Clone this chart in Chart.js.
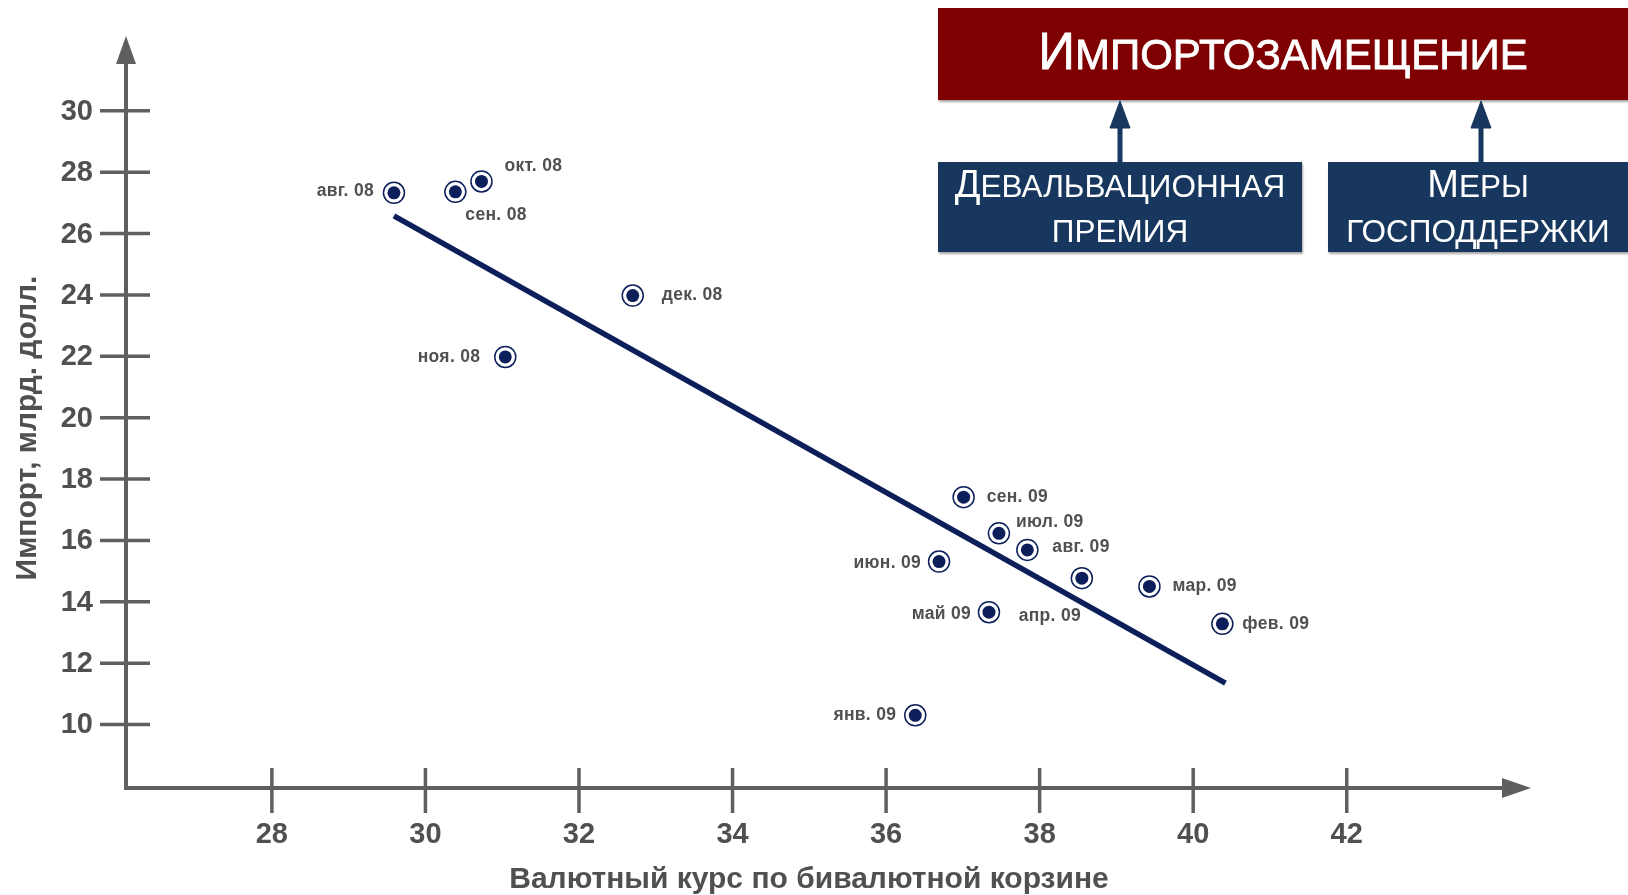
<!DOCTYPE html>
<html lang="ru">
<head>
<meta charset="utf-8">
<script src="https://cdn.jsdelivr.net/npm/chart.js@4/dist/chart.umd.min.js"></script>
<style>
  body { margin: 0; background: #fff; }
  #wrap { position: relative; width: 1628px; height: 895px; overflow: hidden; }
  .box { position: absolute; color: #fff; font-family: 'Liberation Sans', Arial, sans-serif; text-align: center; }
  .red { left: 938px; top: 8px; width: 690px; height: 92px; background: #7e0000; line-height: 88px; font-size: 42px; -webkit-text-stroke: 0.8px #fff; box-shadow: 1px 2px 2px rgba(0,0,0,0.35); }
  .red .big { font-size: 51px; }
  .blue { top: 162px; height: 90px; background: #17375e; font-size: 31.5px; line-height: 45px; box-shadow: 1px 2px 2px rgba(0,0,0,0.35); }
  .blue .big { font-size: 38px; }
  #b1 { left: 938px; width: 364px; }
  #b2 { left: 1328px; width: 300px; }
  #arrows { position: absolute; left: 0; top: 0; }
</style>
</head>
<body>
<div id="wrap">
  <canvas id="jsChart" width="1628" height="895"></canvas>
  <div class="box red"><span class="big">И</span>МПОРТОЗАМЕЩЕНИЕ</div>
  <div class="box blue" id="b1"><span class="big">Д</span>ЕВАЛЬВАЦИОННАЯ<br>ПРЕМИЯ</div>
  <div class="box blue" id="b2"><span class="big">М</span>ЕРЫ<br>ГОСПОДДЕРЖКИ</div>
  <svg id="arrows" width="1628" height="260">
    <g fill="#17375e" stroke="#17375e">
      <line x1="1120" y1="162" x2="1120" y2="126" stroke-width="5"/>
      <polygon points="1120,101 1110,128 1130,128" stroke-width="1"/>
      <line x1="1481" y1="162" x2="1481" y2="126" stroke-width="5"/>
      <polygon points="1481,101 1471,128 1491,128" stroke-width="1"/>
    </g>
  </svg>
</div>
<script>
// месяцы
const months = ['авг. 08', 'сен. 08', 'окт. 08', 'ноя. 08', 'дек. 08', 'янв. 09', 'фев. 09',
                'мар. 09', 'апр. 09', 'май 09', 'июн. 09', 'июл. 09', 'авг. 09', 'сен. 09']
// валютный курс по бивалютной корзине
const rate = [29.59, 30.39, 30.73, 31.04, 32.70, 36.38, 40.38, 39.43, 38.55, 37.34, 36.69, 37.47, 37.84, 37.01]
// импорт, млрд. долл.
const imports = [27.33, 27.36, 27.70, 21.98, 23.98, 10.30, 13.28, 14.50, 14.77, 13.66, 15.31, 16.23, 15.69, 17.41]
// линия тренда
const trendX = [29.59, 40.42]
const trendY = [26.58, 11.35]
// деления осей
const xTicks = [28, 30, 32, 34, 36, 38, 40, 42]
const yTicks = [10, 12, 14, 16, 18, 20, 22, 24, 26, 28, 30]

// смещения подписей точек [dx, dy, align]
const labelOffsets = [
    [-20, -2, 'right'], [10, 23, 'left'], [23, -15, 'left'], [-25, 0, 'right'], [29, 0, 'left'],
    [-19, 0, 'right'], [20, 0, 'left'], [23, 0, 'left'], [-32, 38, 'center'], [-18, 2, 'right'],
    [-18, 2, 'right'], [17, -11, 'left'], [25, -3, 'left'], [23, 0, 'left']
]

const navy = '#0c1f5a'
const axisColor = '#5f5f5f'
const textColor = '#505050'
const font = "'Liberation Sans', Arial, sans-serif"

let points = rate.map((x, i) => ({ x: x, y: imports[i] }))
let trend = trendX.map((x, i) => ({ x: x, y: trendY[i] }))

/**
 * @description оси со стрелками, деления и подписи
*/
const axesPlugin = {
    id: 'axesPlugin',
    beforeDatasetsDraw(chart) {
        let ctx = chart.ctx
        let xs = chart.scales.x
        let ys = chart.scales.y
        let area = chart.chartArea
        let x0 = area.left
        let y0 = area.bottom

        ctx.save()
        ctx.strokeStyle = axisColor
        ctx.fillStyle = axisColor
        ctx.lineWidth = 4
        ctx.lineCap = 'butt'

        // ось Y
        ctx.beginPath()
        ctx.moveTo(x0, y0 + 2)
        ctx.lineTo(x0, area.top + 20)
        ctx.stroke()
        ctx.beginPath()
        ctx.moveTo(x0, area.top)
        ctx.lineTo(x0 - 10, area.top + 28)
        ctx.lineTo(x0 + 10, area.top + 28)
        ctx.closePath()
        ctx.fill()

        // ось X
        ctx.beginPath()
        ctx.moveTo(x0 - 2, y0)
        ctx.lineTo(area.right - 20, y0)
        ctx.stroke()
        ctx.beginPath()
        ctx.moveTo(area.right, y0)
        ctx.lineTo(area.right - 29, y0 - 10)
        ctx.lineTo(area.right - 29, y0 + 10)
        ctx.closePath()
        ctx.fill()

        // деления
        ctx.lineWidth = 3.5
        ctx.font = 'bold 29px ' + font
        ctx.fillStyle = textColor
        ctx.textBaseline = 'middle'

        ctx.textAlign = 'right'
        yTicks.forEach(v => {
            let py = ys.getPixelForValue(v)
            ctx.beginPath()
            ctx.moveTo(x0 - 26, py)
            ctx.lineTo(x0 + 24, py)
            ctx.stroke()
            ctx.fillText(String(v), x0 - 33, py + 1)
        })

        ctx.textAlign = 'center'
        xTicks.forEach(v => {
            let px = xs.getPixelForValue(v)
            ctx.beginPath()
            ctx.moveTo(px, y0 - 20)
            ctx.lineTo(px, y0 + 25)
            ctx.stroke()
            ctx.fillText(String(v), px, y0 + 47)
        })

        // названия осей
        ctx.font = 'bold 30px ' + font
        ctx.fillText('Валютный курс по бивалютной корзине', 809, 880)

        ctx.translate(28, 428)
        ctx.rotate(-Math.PI / 2)
        ctx.font = 'bold 30px ' + font
        ctx.fillText('Импорт, млрд. долл.', 0, 0)
        ctx.restore()
    },
    afterDatasetsDraw(chart) {
        let ctx = chart.ctx
        let xs = chart.scales.x
        let ys = chart.scales.y

        ctx.save()
        ctx.font = 'bold 17.5px ' + font
        ctx.letterSpacing = '0.3px'
        ctx.fillStyle = textColor
        ctx.textBaseline = 'middle'
        months.forEach((m, i) => {
            let off = labelOffsets[i]
            ctx.textAlign = off[2]
            ctx.fillText(m, xs.getPixelForValue(rate[i]) + off[0], ys.getPixelForValue(imports[i]) + off[1])
        })
        ctx.restore()
    }
}

new Chart(document.getElementById('jsChart'), {
    type: 'scatter',
    data: {
        datasets: [
            {
                type: 'line',
                data: trend,
                borderColor: navy,
                borderWidth: 5.5,
                pointRadius: 0,
                order: 3
            },
            {
                data: points,
                pointRadius: 10.5,
                backgroundColor: '#ffffff',
                borderColor: navy,
                borderWidth: 1.5,
                order: 2
            },
            {
                data: points,
                pointRadius: 6.5,
                backgroundColor: navy,
                borderWidth: 0,
                order: 1
            }
        ]
    },
    options: {
        responsive: false,
        animation: false,
        layout: {
            padding: { left: 126, right: 97, top: 36, bottom: 107 }
        },
        plugins: {
            legend: { display: false },
            tooltip: { enabled: false }
        },
        scales: {
            x: { type: 'linear', min: 26.1, max: 44.4, display: false },
            y: { type: 'linear', min: 7.93, max: 32.44, display: false }
        }
    },
    plugins: [axesPlugin]
})
</script>
</body>
</html>
